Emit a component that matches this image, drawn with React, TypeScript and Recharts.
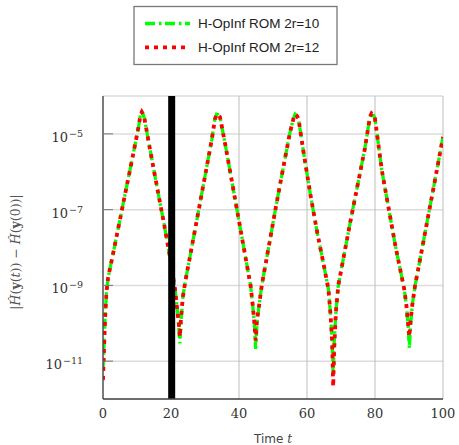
import React from "react";
import {
  LineChart,
  Line,
  XAxis,
  YAxis,
  CartesianGrid,
  ReferenceLine,
} from "recharts";

// Time samples
const times = [
  0, 0.3, 0.6, 1.0, 1.5, 3, 5, 7, 9, 10.5, 11.0, 11.4, 11.8, 12.2,
  14, 16, 18, 19.5, 20.5, 21.2, 21.8, 22.3, 22.6, 23.0, 23.5, 24.2,
  26, 28, 30, 32, 32.9, 33.4, 33.9, 34.4,
  36, 38, 40, 42, 43.4, 44.0, 44.5, 44.9, 45.3, 45.8, 46.7,
  49, 51, 53, 55, 56.0, 56.5, 57.0, 57.5,
  59, 61, 63, 65, 66.3, 66.9, 67.4, 67.7, 68.0, 68.5, 69.2,
  71, 73, 75, 77, 78.5, 79, 79.5, 80,
  82, 84, 86, 88.6, 89.2, 89.7, 90.1, 90.5, 91.0, 91.8,
  94, 96, 98, 100,
];

// H-OpInf ROM 2r=10
const rom10 = [
  6.3e-12, 2.5e-11, 1.26e-10, 6.3e-10, 1.6e-9, 7.1e-9, 5.5e-8, 4.3e-7, 3.3e-6, 1.6e-5, 3.2e-5, 3.8e-5, 3.3e-5, 2.5e-5,
  3.2e-6, 3.5e-7, 4.0e-8, 7.1e-9, 2.0e-9, 7.9e-10, 2.5e-10, 7.9e-11, 2.95e-11, 1.26e-10, 5.0e-10, 1.26e-9,
  9.1e-9, 8.3e-8, 7.6e-7, 7.1e-6, 2.4e-5, 3.3e-5, 3.2e-5, 2.8e-5,
  5.0e-6, 5.0e-7, 5.0e-8, 5.0e-9, 1.0e-9, 3.2e-10, 1.0e-10, 2.1e-11, 1.0e-10, 2.5e-10, 1.0e-9,
  1.4e-8, 1.4e-7, 1.26e-6, 1.1e-5, 2.5e-5, 3.3e-5, 3.0e-5, 2.5e-5,
  3.2e-6, 2.5e-7, 2.5e-8, 3.2e-9, 7.9e-10, 1.8e-10, 3.5e-11, 4.0e-12, 3.2e-11, 2.0e-10, 1.0e-9,
  7.1e-9, 6.3e-8, 5.0e-7, 4.0e-6, 2.8e-5, 3.5e-5, 3.2e-5, 2.5e-5,
  1.1e-6, 1.1e-7, 1.1e-8, 7.9e-10, 3.2e-10, 1.0e-10, 2.2e-11, 1.0e-10, 3.2e-10, 1.0e-9,
  1.1e-8, 1.0e-7, 8.9e-7, 8.3e-6,
];

// H-OpInf ROM 2r=12
const rom12 = [
  3.2e-12, 2.0e-11, 1.26e-10, 6.3e-10, 1.6e-9, 7.1e-9, 5.5e-8, 4.3e-7, 3.3e-6, 1.6e-5, 3.2e-5, 3.8e-5, 3.3e-5, 2.5e-5,
  3.2e-6, 3.5e-7, 4.0e-8, 7.1e-9, 2.0e-9, 7.9e-10, 2.5e-10, 1.0e-10, 4.4e-11, 1.6e-10, 5.0e-10, 1.26e-9,
  9.1e-9, 8.3e-8, 7.6e-7, 7.1e-6, 2.4e-5, 3.3e-5, 3.2e-5, 2.8e-5,
  5.0e-6, 5.0e-7, 5.0e-8, 5.0e-9, 1.0e-9, 3.2e-10, 1.1e-10, 3.5e-11, 1.26e-10, 2.5e-10, 1.0e-9,
  1.4e-8, 1.4e-7, 1.26e-6, 1.1e-5, 2.5e-5, 3.3e-5, 3.0e-5, 2.5e-5,
  3.2e-6, 2.5e-7, 2.5e-8, 3.2e-9, 7.9e-10, 1.8e-10, 3.2e-11, 2.1e-12, 2.0e-11, 2.0e-10, 1.0e-9,
  7.1e-9, 6.3e-8, 5.0e-7, 4.0e-6, 2.8e-5, 3.5e-5, 3.2e-5, 2.5e-5,
  1.1e-6, 1.1e-7, 1.1e-8, 7.9e-10, 3.2e-10, 1.0e-10, 4.4e-11, 1.26e-10, 3.2e-10, 1.0e-9,
  1.1e-8, 1.0e-7, 8.9e-7, 8.3e-6,
];

const xTicks = [0, 20, 40, 60, 80, 100];
const yTicks = [1e-11, 1e-9, 1e-7, 1e-5];
const yTickExponents = ["−11", "−9", "−7", "−5"];
const seriesNames = ["H-OpInf ROM 2r=10", "H-OpInf ROM 2r=12"];
const marker = 20.2;

const data = times.map((t, i) => ({ t, a: rom10[i], b: rom12[i] }));

const W = 459;
const H = 445;
const GREEN = "#00ff00";
const RED = "#ff0000";
const GREEN_DASH = "10 4 2.5 3.5";
const RED_DASH = "4 5";

const YTick = (props: any) => {
  const { x, y, payload } = props;
  const idx = yTicks.indexOf(payload.value);
  const exp = idx >= 0 ? yTickExponents[idx] : "";
  return (
    <g>
      <line x1={x} x2={x + 10} y1={y} y2={y} stroke="#777" strokeWidth={1} />
      <text
        x={x - 20}
        y={y + 8}
        textAnchor="end"
        fontFamily="DejaVu Serif"
        fill="#333"
      >
        <tspan fontSize={13}>10</tspan>
        <tspan fontSize={9.5} dy={-5} dx={1}>
          {exp}
        </tspan>
      </text>
    </g>
  );
};

const XTick = (props: any) => {
  const { x, y, payload } = props;
  return (
    <text
      x={x}
      y={y + 19}
      textAnchor="middle"
      fontFamily="DejaVu Serif"
      fontSize={13}
      fill="#333"
    >
      {payload.value}
    </text>
  );
};

export default function App() {
  return (
    <div style={{ position: "absolute", left: 0, top: 0, width: W, height: H, background: "#fff" }}>
      <LineChart
        width={W}
        height={H}
        data={data}
        margin={{ top: 96, right: 16, bottom: 0, left: 0 }}
      >
        <CartesianGrid horizontal={true} vertical={false} stroke="#dcdcdc" strokeWidth={1.5} />
        <CartesianGrid horizontal={false} vertical={true} stroke="#bdbdbd" strokeWidth={1} />
        <XAxis
          dataKey="t"
          type="number"
          domain={[0, 100]}
          ticks={xTicks}
          allowDataOverflow
          height={46}
          tickSize={0}
          tickMargin={0}
          tick={<XTick />}
          axisLine={{ stroke: "#444", strokeWidth: 1.3 }}
          tickLine={false}
        />
        <XAxis
          xAxisId="top"
          dataKey="t"
          type="number"
          orientation="top"
          domain={[0, 100]}
          ticks={xTicks}
          height={0}
          mirror
          tick={false}
          tickSize={8}
          tickLine={{ stroke: "#777" }}
          axisLine={{ stroke: "#777", strokeWidth: 1.3 }}
        />
        <YAxis
          type="number"
          scale="log"
          domain={[1e-12, 1e-4]}
          ticks={yTicks}
          allowDataOverflow
          width={103}
          tickSize={0}
          tickMargin={0}
          tick={<YTick />}
          tickLine={false}
          axisLine={{ stroke: "#444", strokeWidth: 1.3 }}
        />
        <YAxis
          yAxisId="right"
          orientation="right"
          type="number"
          scale="log"
          domain={[1e-12, 1e-4]}
          ticks={yTicks}
          allowDataOverflow
          width={0}
          mirror
          tick={false}
          tickSize={8}
          tickLine={{ stroke: "#777" }}
          axisLine={{ stroke: "#222", strokeWidth: 1.5 }}
        />
        <Line
          type="linear"
          dataKey="a"
          name={seriesNames[0]}
          stroke={GREEN}
          strokeWidth={3.3}
          strokeDasharray={GREEN_DASH}
          dot={false}
          isAnimationActive={false}
        />
        <Line
          type="linear"
          dataKey="b"
          name={seriesNames[1]}
          stroke={RED}
          strokeWidth={3.8}
          strokeDasharray={RED_DASH}
          dot={false}
          isAnimationActive={false}
        />
        <ReferenceLine x={marker} stroke="#000" strokeWidth={7} />
      </LineChart>
      <svg
        width={W}
        height={H}
        style={{ position: "absolute", left: 0, top: 0, pointerEvents: "none" }}
      >
        {/* legend */}
        <rect x={134} y={6.5} width={203} height={58} fill="#fff" stroke="#777" strokeWidth={1.3} />
        <line x1={145} x2={190} y1={23.5} y2={23.5} stroke={GREEN} strokeWidth={3.3} strokeDasharray={GREEN_DASH} />
        <line x1={145} x2={190} y1={47.3} y2={47.3} stroke={RED} strokeWidth={3.8} strokeDasharray={RED_DASH} />
        <text x={198} y={28.3} fontFamily="Liberation Sans" fontSize={13.5} fill="#222">
          {seriesNames[0]}
        </text>
        <text x={198} y={51.7} fontFamily="Liberation Sans" fontSize={13.5} fill="#222">
          {seriesNames[1]}
        </text>
        {/* x label */}
        <text x={273} y={443} textAnchor="middle" fill="#444" fontSize={12}>
          <tspan fontFamily="DejaVu Sans">Time </tspan>
          <tspan fontFamily="DejaVu Serif" fontStyle="italic">t</tspan>
        </text>
        {/* y label */}
        <text
          transform="translate(20,252) rotate(-90)"
          textAnchor="middle"
          fontFamily="DejaVu Serif"
          fontSize={12.5}
          fill="#555"
        >
          <tspan>|</tspan>
          <tspan fontStyle="italic">Ĥ</tspan>
          <tspan>(</tspan>
          <tspan fontWeight="bold">y</tspan>
          <tspan>(</tspan>
          <tspan fontStyle="italic">t</tspan>
          <tspan>)) − </tspan>
          <tspan fontStyle="italic">Ĥ</tspan>
          <tspan>(</tspan>
          <tspan fontWeight="bold">y</tspan>
          <tspan>(0))|</tspan>
        </text>
      </svg>
    </div>
  );
}
